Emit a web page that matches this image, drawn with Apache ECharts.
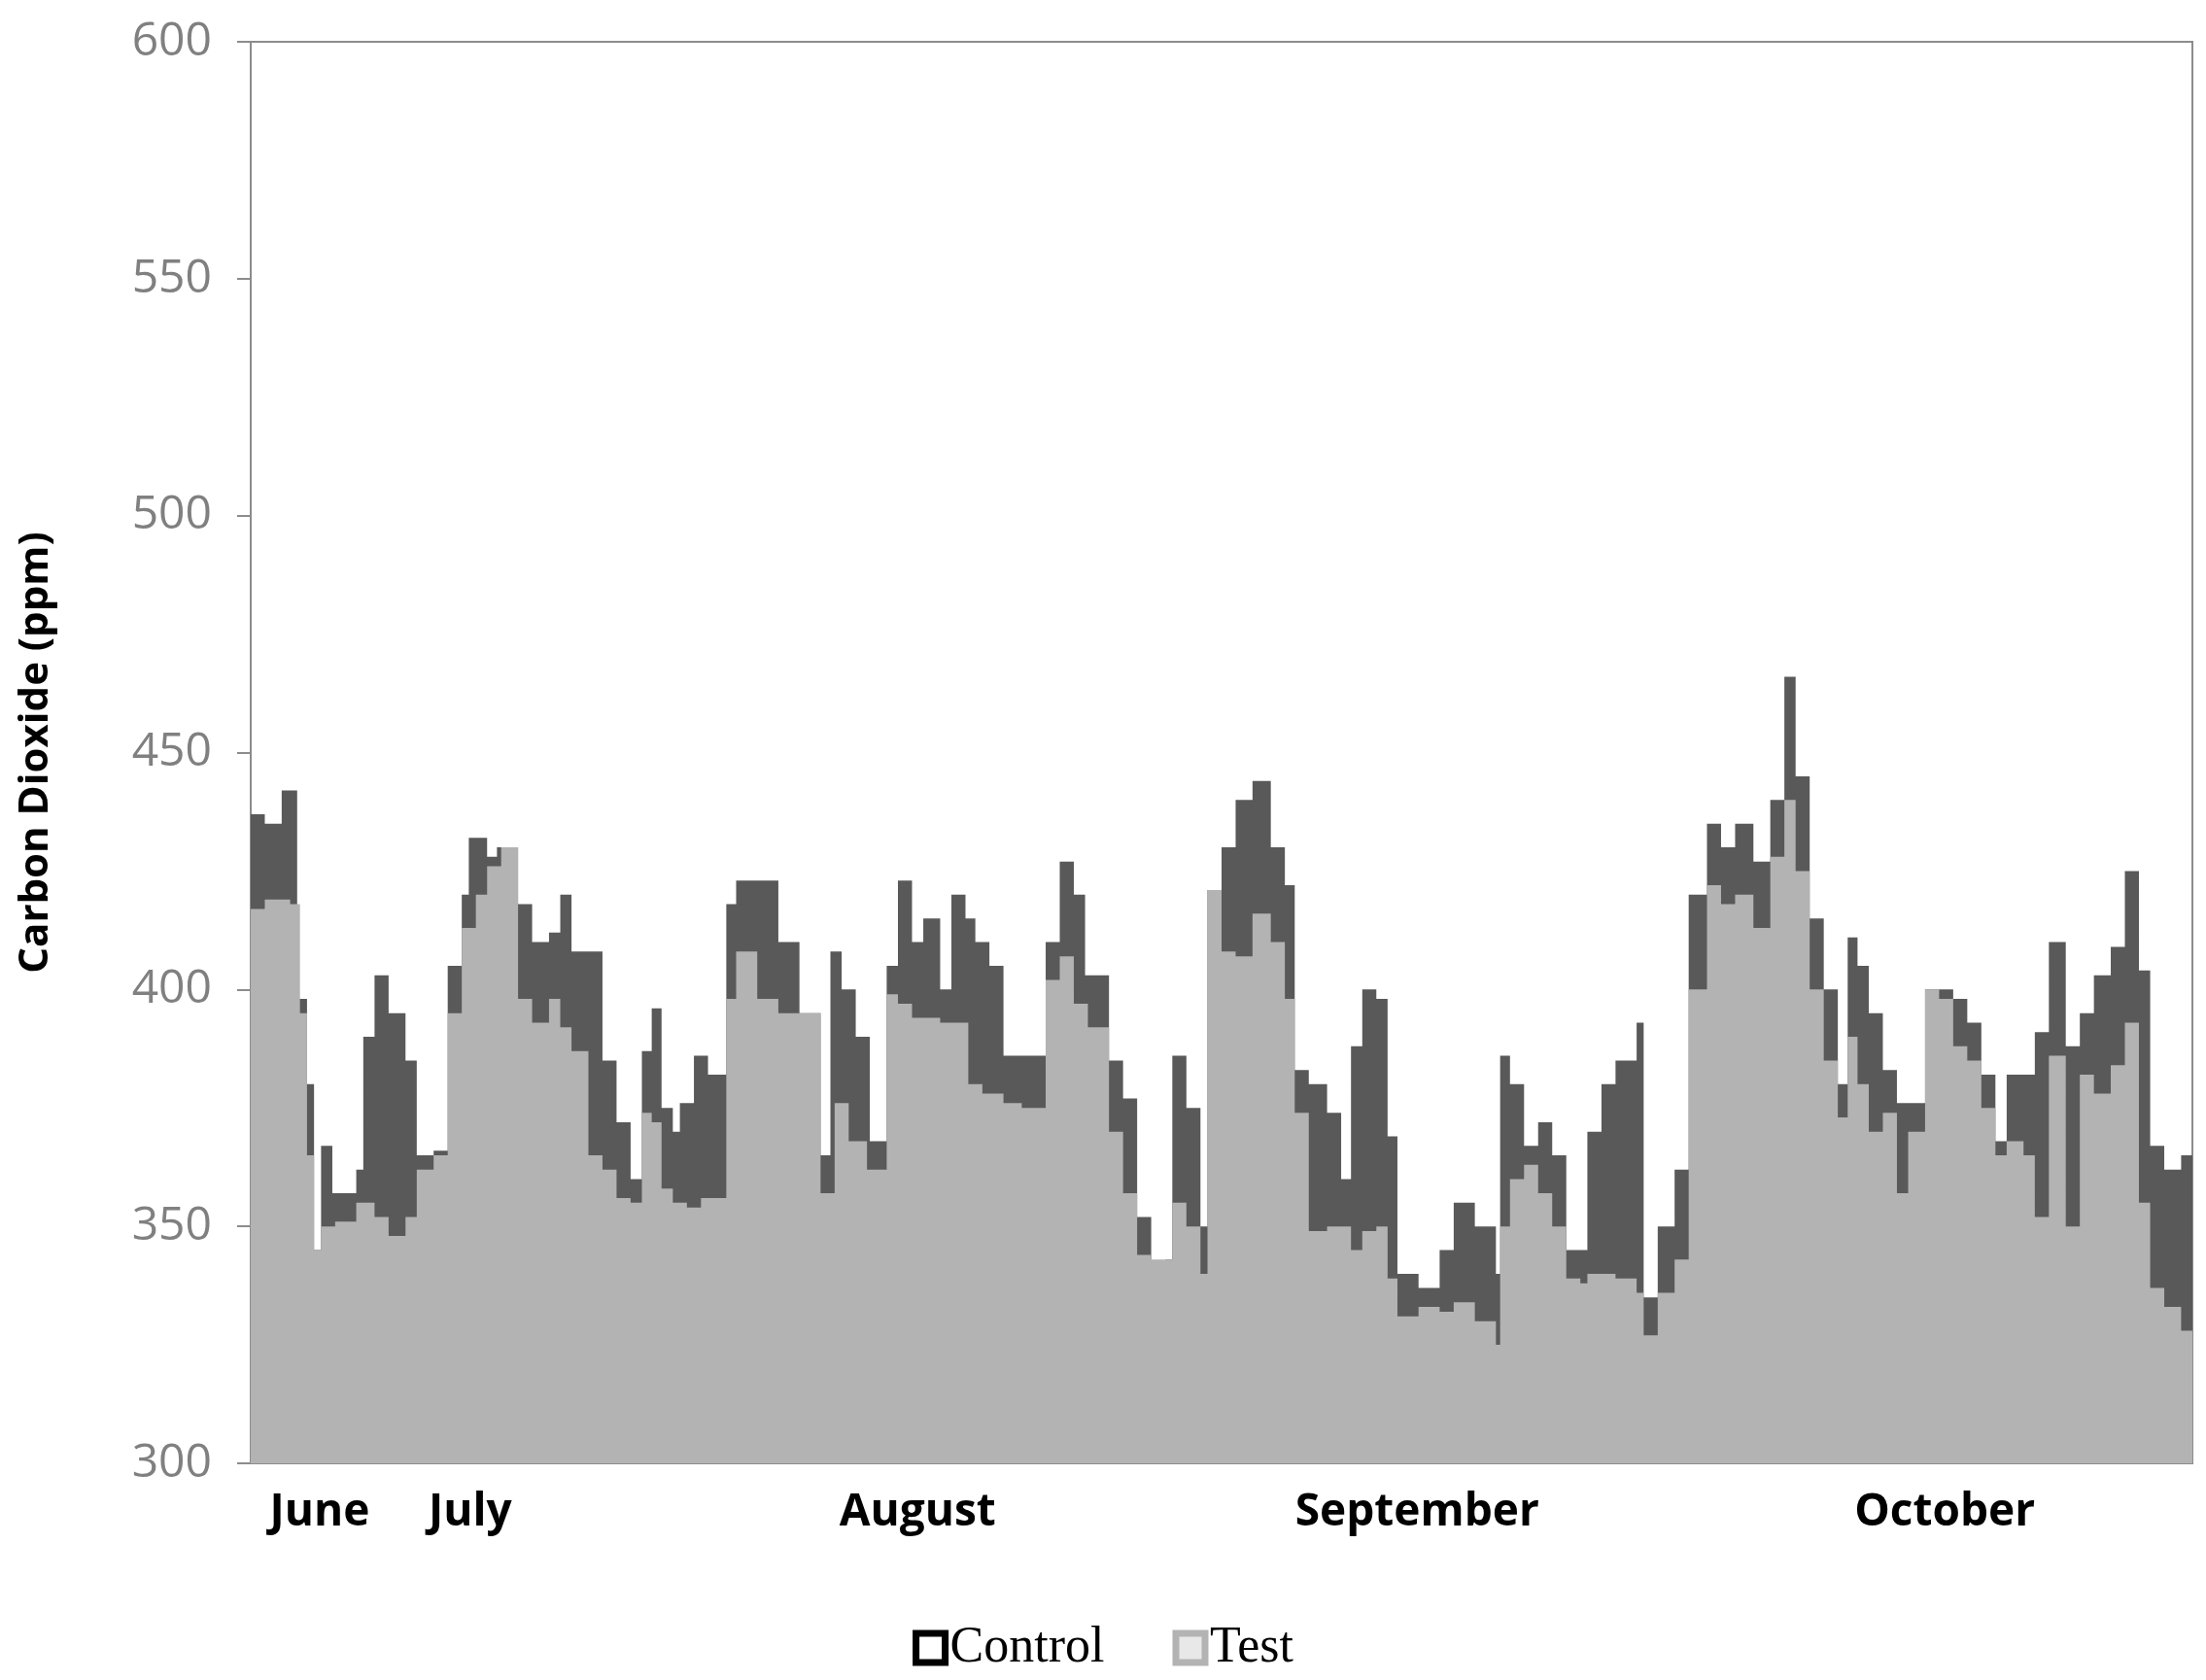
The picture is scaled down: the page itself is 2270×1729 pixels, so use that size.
<!DOCTYPE html>
<html><head><meta charset="utf-8">
<script src="https://cdn.jsdelivr.net/npm/echarts@6/dist/echarts.min.js"></script>
<style>html,body{margin:0;background:#fff}#c{width:2270px;height:1729px}</style>
</head><body><div id="c"></div>
<script>
const ctrlX=[0,10,22,33,40,45,50,58,75,80,88,98,110,118,125,130,140,150,155,168,175,190,200,212,220,228,242,250,260,270,278,285,292,300,305,315,325,338,345,360,375,390,405,412,420,430,440,452,460,470,478,490,498,508,515,525,535,548,565,575,585,593,610,620,630,640,650,655,665,675,680,690,700,712,725,735,742,752,765,775,782,790,800,808,815,830,845,855,870,885,888,895,905,915,925,935,945,950,960,970,985,990,1000,1012,1022,1035,1045,1055,1068,1080,1090,1098,1108,1118,1128,1135,1142,1150,1160,1170,1178,1190,1200,1210,1220,1230,1240,1248,1260,1268,1278,1290,1300,1310,1322,1332,1342,1350,1360,1372,1380];
const ctrlY=[437,435,442,398,380,345,367,357,362,390,403,395,385,365,365,366,405,420,432,428,430,418,410,412,420,408,408,385,372,360,387,396,375,370,376,386,382,418,423,423,410,395,365,408,400,390,368,405,423,410,415,400,420,415,410,405,386,386,410,427,420,403,385,377,352,342,343,386,375,350,421,430,440,444,430,422,383,380,374,360,388,400,398,369,340,337,345,355,350,340,386,380,367,372,365,345,345,370,380,385,393,335,350,362,420,435,430,435,427,440,466,445,415,400,380,411,405,395,383,376,376,400,400,398,393,382,368,382,382,391,410,388,395,403,409,425,404,367,362,365,365];
const testX=[0,10,28,35,40,45,50,60,75,88,98,110,118,130,140,150,160,168,178,190,200,212,220,228,240,250,260,270,278,285,292,300,310,320,338,345,360,375,390,405,415,425,438,452,460,470,490,510,520,535,548,565,575,585,595,610,620,630,640,655,665,675,680,690,700,712,725,735,742,752,765,775,782,790,800,808,815,830,845,855,870,885,888,895,905,915,925,935,945,950,970,985,990,1000,1012,1022,1035,1045,1055,1068,1080,1090,1098,1108,1118,1128,1135,1142,1150,1160,1170,1178,1190,1200,1210,1220,1230,1240,1248,1260,1268,1278,1290,1300,1310,1322,1332,1342,1350,1360,1372,1380];
const testY=[417,419,418,395,365,345,350,351,355,352,348,352,362,365,395,413,420,426,430,398,393,398,392,387,365,362,356,355,374,372,358,355,354,356,398,408,398,395,395,357,376,368,362,399,397,394,393,380,378,376,375,402,407,397,392,370,357,344,343,355,350,340,421,408,407,416,410,398,374,349,350,350,345,349,350,339,331,333,332,334,330,325,350,360,363,357,350,339,338,340,339,336,327,336,343,400,422,418,420,413,428,440,425,400,385,373,390,380,370,374,357,370,400,398,388,385,375,365,368,365,352,386,350,382,378,384,393,355,337,333,328,330];
const monthPos=[49,156,474,829,1204];
const monthNames=['June','July','August','September','October'];
const yTicks=[300,350,400,450,500,550,600];
const zip=(a,b)=>a.map((v,i)=>[v,b[i]]);
const chart=echarts.init(document.getElementById('c'));
chart.setOption({
  animation:false,
  grid:{left:258,right:14,top:43,bottom:223,show:true,borderColor:'#8c8c8c',borderWidth:2,backgroundColor:'#fff'},
  xAxis:{type:'value',min:0,max:1380,splitLine:{show:false},axisLine:{show:false},axisTick:{show:false},
    axisLabel:{customValues:monthPos,formatter:v=>monthNames[monthPos.indexOf(v)]||'',fontSize:46,fontWeight:'bold',color:'#000',fontFamily:'Open Sans',margin:28}},
  yAxis:{type:'value',min:300,max:600,interval:50,splitLine:{show:false},
    axisLine:{show:true,lineStyle:{color:'#8c8c8c',width:2}},axisTick:{show:true,length:14,lineStyle:{color:'#8c8c8c',width:2}},
    axisLabel:{fontSize:48,color:'#808080',fontFamily:'Open Sans',margin:40},
    name:'Carbon Dioxide (ppm)',nameLocation:'middle',nameGap:200,nameTextStyle:{fontSize:42,fontWeight:'bold',color:'#000',fontFamily:'Open Sans'}},
  legend:{bottom:2,left:'center',itemWidth:30,itemHeight:30,itemGap:70,textStyle:{fontSize:52,fontFamily:'Liberation Serif',color:'#000'},
    data:[{name:'Control',icon:'rect',itemStyle:{color:'#fff',borderColor:'#000',borderWidth:7}},
          {name:'Test',icon:'rect',itemStyle:{color:'#e8e8e8',borderColor:'#b3b3b3',borderWidth:7}}]},
  series:[
    {name:'Control',type:'line',step:'end',data:zip(ctrlX,ctrlY),symbol:'none',lineStyle:{width:0},itemStyle:{color:'#595959'},areaStyle:{color:'#595959',opacity:1},z:2},
    {name:'Test',type:'line',step:'end',data:zip(testX,testY),symbol:'none',lineStyle:{width:0},itemStyle:{color:'#b3b3b3'},areaStyle:{color:'#b3b3b3',opacity:1},z:3}
  ]
});
</script></body></html>
